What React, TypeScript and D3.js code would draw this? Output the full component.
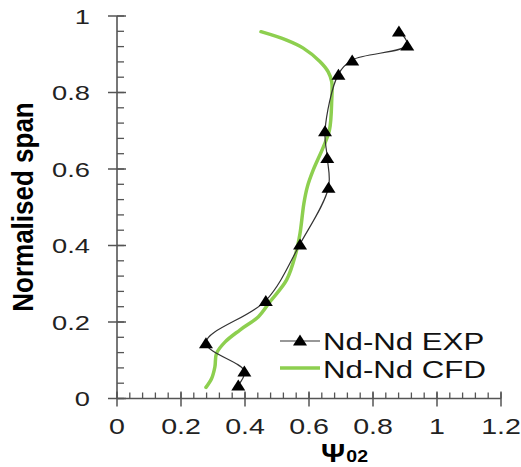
import * as d3 from "d3";
import { useEffect, useRef } from "react";

// Nd-Nd EXP (measured points, bottom to top)
const expPsi = [0.379, 0.398, 0.278, 0.465, 0.572, 0.661, 0.657, 0.65, 0.692, 0.735, 0.907, 0.881];
const expSpan = [0.035, 0.072, 0.146, 0.256, 0.404, 0.552, 0.63, 0.7, 0.848, 0.885, 0.924, 0.961];

// Nd-Nd CFD
const cfdPsi = [0.278, 0.296, 0.306, 0.311, 0.338, 0.384, 0.442, 0.478, 0.53, 0.559, 0.572, 0.584, 0.595, 0.613, 0.645, 0.664, 0.671, 0.671, 0.66, 0.634, 0.582, 0.53, 0.45];
const cfdSpan = [0.029, 0.053, 0.083, 0.118, 0.148, 0.179, 0.214, 0.253, 0.31, 0.38, 0.432, 0.51, 0.554, 0.597, 0.658, 0.702, 0.78, 0.828, 0.854, 0.881, 0.916, 0.937, 0.959];

const xTicks = [0, 0.2, 0.4, 0.6, 0.8, 1, 1.2];
const yTicks = [0, 0.2, 0.4, 0.6, 0.8, 1];
const seriesNames = ["Nd-Nd EXP", "Nd-Nd CFD"];

const WIDTH = 521;
const HEIGHT = 467;
const GREEN = "#8dcf4f";
const AXIS = "#555555";
const FONT = "Liberation Sans, Arial, sans-serif";
const SX = 1.3; // the source picture is stretched horizontally

const tri = (cx: number, cy: number, w = 14, h = 11) =>
  `M${cx},${cy - h / 2}L${cx + w / 2},${cy + h / 2}L${cx - w / 2},${cy + h / 2}Z`;

const App = () => {
  const ref = useRef<SVGSVGElement | null>(null);

  useEffect(() => {
    if (!ref.current) return;
    const svg = d3.select(ref.current);
    svg.selectAll("*").remove();

    const x = d3.scaleLinear().domain([0, 1.2]).range([117, 501]);
    const y = d3.scaleLinear().domain([0, 1]).range([398.5, 16]);

    const g = svg.append("g");

    // minor ticks
    const minorX = d3.range(0, 1.2001, 0.04);
    const minorY = d3.range(0, 1.0001, 0.04);
    g.selectAll("line.mx")
      .data(minorX)
      .join("line")
      .attr("x1", (d) => x(d))
      .attr("x2", (d) => x(d))
      .attr("y1", y(0))
      .attr("y2", y(0) - 6)
      .attr("stroke", AXIS)
      .attr("stroke-width", 1.3);
    g.selectAll("line.my")
      .data(minorY)
      .join("line")
      .attr("x1", x(0))
      .attr("x2", x(0) + 7)
      .attr("y1", (d) => y(d))
      .attr("y2", (d) => y(d))
      .attr("stroke", AXIS)
      .attr("stroke-width", 1.3);

    // major ticks
    g.selectAll("line.Mx")
      .data(xTicks)
      .join("line")
      .attr("x1", (d) => x(d))
      .attr("x2", (d) => x(d))
      .attr("y1", y(0) - 7)
      .attr("y2", y(0) + 8)
      .attr("stroke", AXIS)
      .attr("stroke-width", 1.5);
    g.selectAll("line.My")
      .data(yTicks)
      .join("line")
      .attr("x1", x(0) - 9)
      .attr("x2", x(0) + 9)
      .attr("y1", (d) => y(d))
      .attr("y2", (d) => y(d))
      .attr("stroke", AXIS)
      .attr("stroke-width", 1.5);

    // axis lines
    g.append("line")
      .attr("x1", x(0))
      .attr("x2", x(1.2))
      .attr("y1", y(0))
      .attr("y2", y(0))
      .attr("stroke", AXIS)
      .attr("stroke-width", 1.6);
    g.append("line")
      .attr("x1", x(0))
      .attr("x2", x(0))
      .attr("y1", y(0))
      .attr("y2", y(1))
      .attr("stroke", AXIS)
      .attr("stroke-width", 1.6);

    // tick labels
    g.selectAll("text.xl")
      .data(xTicks)
      .join("text")
      .attr("transform", (d) => `translate(${x(d)},434) scale(${SX},1)`)
      .attr("text-anchor", "middle")
      .attr("font-family", FONT)
      .attr("font-size", 22)
      .attr("fill", "#222")
      .text((d) => `${d}`);
    g.selectAll("text.yl")
      .data(yTicks)
      .join("text")
      .attr("transform", (d) => `translate(90,${y(d) + 7.5}) scale(${SX},1)`)
      .attr("text-anchor", "end")
      .attr("font-family", FONT)
      .attr("font-size", 21)
      .attr("fill", "#222")
      .text((d) => `${d}`);

    // axis titles
    g.append("text")
      .attr("transform", `translate(33,207) rotate(-90) scale(1,1.12)`)
      .attr("text-anchor", "middle")
      .attr("font-family", FONT)
      .attr("font-size", 26)
      .attr("font-weight", "bold")
      .attr("fill", "#000")
      .text("Normalised span");
    const xt = g
      .append("text")
      .attr("transform", `translate(321,462) scale(1.15,1)`)
      .attr("font-family", FONT)
      .attr("font-weight", "bold")
      .attr("fill", "#000");
    xt.append("tspan").attr("font-size", 26).text("Ψ");
    xt.append("tspan").attr("font-size", 17).attr("dx", 1).text("02");

    // CFD curve
    const cfd = cfdPsi.map((v, i) => [v, cfdSpan[i]] as [number, number]);
    g.append("path")
      .datum(cfd)
      .attr("fill", "none")
      .attr("stroke", GREEN)
      .attr("stroke-width", 3.5)
      .attr("stroke-linecap", "round")
      .attr("d", d3.line<[number, number]>()
        .x((d) => x(d[0]))
        .y((d) => y(d[1]))
        .curve(d3.curveCatmullRom.alpha(0.5)));

    // EXP curve + markers
    const exp = expPsi.map((v, i) => [v, expSpan[i]] as [number, number]);
    g.append("path")
      .datum(exp)
      .attr("fill", "none")
      .attr("stroke", "#333")
      .attr("stroke-width", 1.2)
      .attr("d", d3.line<[number, number]>()
        .x((d) => x(d[0]))
        .y((d) => y(d[1]))
        .curve(d3.curveCatmullRom.alpha(0.5)));
    g.selectAll("path.m")
      .data(exp)
      .join("path")
      .attr("d", (d) => tri(x(d[0]), y(d[1])))
      .attr("fill", "#000");

    // legend
    const lg = g.append("g");
    lg.append("line")
      .attr("x1", 280)
      .attr("x2", 320)
      .attr("y1", 341)
      .attr("y2", 341)
      .attr("stroke", "#333")
      .attr("stroke-width", 1.2);
    lg.append("path").attr("d", tri(300, 340)).attr("fill", "#000");
    lg.append("line")
      .attr("x1", 280)
      .attr("x2", 320)
      .attr("y1", 368)
      .attr("y2", 368)
      .attr("stroke", GREEN)
      .attr("stroke-width", 3.5);
    lg.selectAll("text")
      .data(seriesNames)
      .join("text")
      .attr("transform", (_, i) => `translate(323,${350 + i * 28}) scale(${SX},1)`)
      .attr("font-family", FONT)
      .attr("font-size", 24)
      .attr("fill", "#111")
      .text((d) => d);
  }, []);

  return (
    <svg
      ref={ref}
      width={WIDTH}
      height={HEIGHT}
      style={{ position: "absolute", left: 0, top: 0, background: "#fff" }}
    />
  );
};

export default App;
